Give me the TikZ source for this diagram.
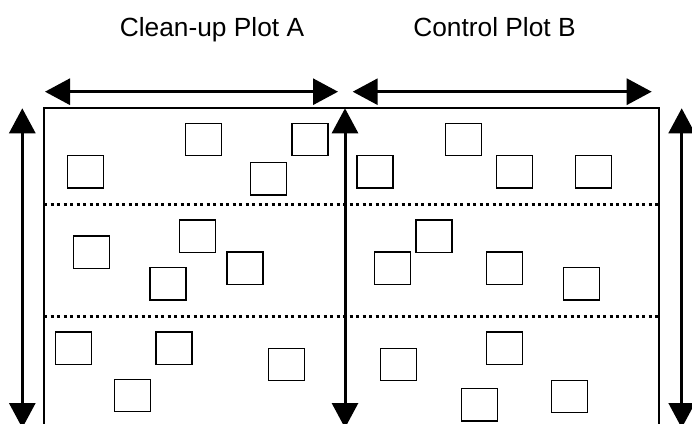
\documentclass[tikz,border=0pt]{standalone}
\usepackage{fontspec}
\setmainfont{Liberation Sans}
\usetikzlibrary{arrows.meta}
\tikzset{
  dimarrow/.style={line width=3pt,
    {Triangle[length=25pt,width=26pt]}-{Triangle[length=25pt,width=26pt]}},
  plotbox/.style={draw, line width=1.3pt, minimum width=36pt, minimum height=32.3pt,
    inner sep=0pt, outer sep=0pt},
  stratum/.style={line width=3pt, dash pattern=on 3pt off 3.5pt},
  border/.style={line width=1.6pt},
  plottitle/.style={anchor=base, inner sep=0pt, font=\fontsize{26.3}{31}\selectfont}
}
\begin{document}
\begin{tikzpicture}[x=1pt, y=-1pt]
\useasboundingbox (0,0) rectangle (692,423);
\clip (0,0) rectangle (692,423);

% titles
\node[plottitle] (titleA) at (212,36.9) {Clean-up Plot A};
\node[plottitle] (titleB) at (494.5,36.9) {Control Plot B};

% plot outline (open at the bottom)
\coordinate (bl) at (44,440);
\coordinate (tl) at (44,107.7);
\coordinate (tr) at (659,107.7);
\coordinate (br) at (659,440);
\draw[border] (bl) -- (tl) -- (tr) -- (br);

% strata boundaries
\coordinate (s1l) at (44,204);  \coordinate (s1r) at (659,204);
\coordinate (s2l) at (44,316);  \coordinate (s2r) at (659,316);
\draw[stratum] (s1l) -- (s1r);
\draw[stratum] (s2l) -- (s2r);

% width arrows
\coordinate (hA1) at (45,91.7);    \coordinate (hA2) at (338,91.7);
\coordinate (hB1) at (352.7,91.7); \coordinate (hB2) at (651.7,91.7);
\draw[dimarrow] (hA1) -- (hA2);
\draw[dimarrow] (hB1) -- (hB2);

% length arrows
\coordinate (v1t) at (22.3,108.3);  \coordinate (v1b) at (22.3,428);
\coordinate (v2t) at (345,108.3);   \coordinate (v2b) at (345,428);
\coordinate (v3t) at (681.7,108.3); \coordinate (v3b) at (681.7,428);
\draw[dimarrow] (v1b) -- (v1t);
\draw[dimarrow] (v2b) -- (v2t);
\draw[dimarrow] (v3b) -- (v3t);

% sample quadrats, plot A
\node[plotbox] (a11) at (85.3,171.7) {};
\node[plotbox] (a12) at (203.7,139.5) {};
\node[plotbox] (a13) at (310,139.5) {};
\node[plotbox] (a14) at (268.7,178.8) {};
\node[plotbox] (a21) at (91.3,252) {};
\node[plotbox] (a22) at (197.7,236) {};
\node[plotbox] (a23) at (168,283.8) {};
\node[plotbox] (a24) at (245,268) {};
\node[plotbox] (a31) at (73.7,348.2) {};
\node[plotbox] (a32) at (174,348.2) {};
\node[plotbox] (a33) at (286.3,364.3) {};
\node[plotbox] (a34) at (132.3,395.3) {};

% sample quadrats, plot B
\node[plotbox] (b11) at (463.3,139.5) {};
\node[plotbox] (b12) at (375,171.7) {};
\node[plotbox] (b13) at (514.8,171.7) {};
\node[plotbox] (b14) at (593.3,171.7) {};
\node[plotbox] (b21) at (434,236) {};
\node[plotbox] (b22) at (392.5,268) {};
\node[plotbox] (b23) at (504.8,268) {};
\node[plotbox] (b24) at (581.7,283.8) {};
\node[plotbox] (b31) at (398.7,364.3) {};
\node[plotbox] (b32) at (504.7,348.2) {};
\node[plotbox] (b33) at (479.7,404.8) {};
\node[plotbox] (b34) at (569.7,396.5) {};
\end{tikzpicture}
\end{document}
